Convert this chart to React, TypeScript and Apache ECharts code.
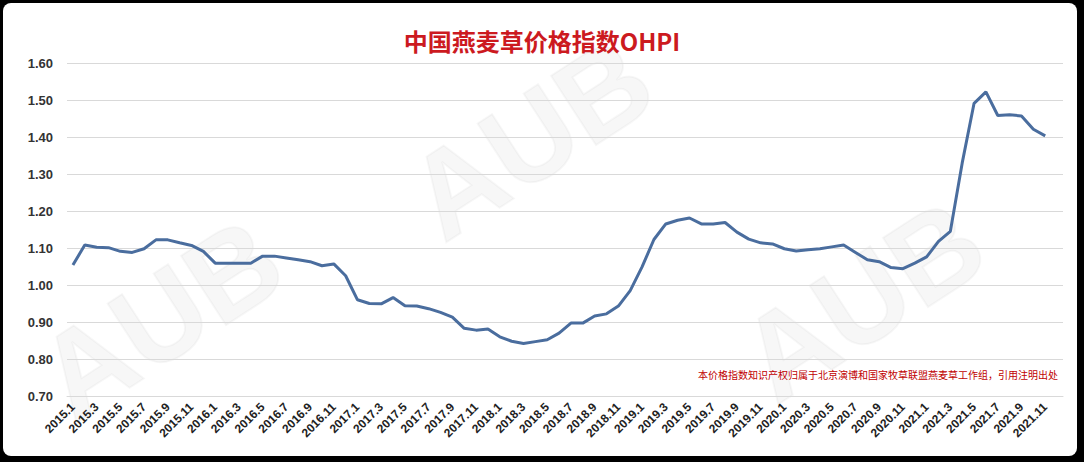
import React, { useEffect, useRef } from "react";
import * as echarts from "echarts";

const years = [2015, 2016, 2017, 2018, 2019, 2020, 2021];
const months = [1, 2, 3, 4, 5, 6, 7, 8, 9, 10, 11, 12];
const categories: string[] = [];
years.forEach((y) => months.forEach((m) => categories.push(`${y}.${m}`)));

const v2015 = [1.054, 1.108, 1.102, 1.101, 1.091, 1.088, 1.098, 1.122, 1.122, 1.114, 1.107, 1.091];
const v2016 = [1.059, 1.059, 1.059, 1.059, 1.078, 1.078, 1.073, 1.068, 1.063, 1.052, 1.057, 1.025];
const v2017 = [0.96, 0.95, 0.949, 0.966, 0.944, 0.943, 0.936, 0.926, 0.913, 0.883, 0.878, 0.881];
const v2018 = [0.86, 0.848, 0.842, 0.847, 0.852, 0.87, 0.897, 0.897, 0.916, 0.922, 0.943, 0.985];
const v2019 = [1.049, 1.123, 1.165, 1.175, 1.181, 1.165, 1.165, 1.169, 1.143, 1.124, 1.114, 1.111];
const v2020 = [1.098, 1.092, 1.095, 1.098, 1.103, 1.108, 1.088, 1.068, 1.063, 1.047, 1.044, 1.059];
const v2021 = [1.076, 1.118, 1.145, 1.33, 1.491, 1.522, 1.458, 1.46, 1.457, 1.421, 1.403, null];

const ohpi = [...v2015, ...v2016, ...v2017, ...v2018, ...v2019, ...v2020, ...v2021];

const titleText = "中国燕麦草价格指数OHPI";
const noteText = "本价格指数知识产权归属于北京演博和国家牧草联盟燕麦草工作组，引用注明出处";
const watermark = "AUB";

export default function App() {
  const ref = useRef<HTMLDivElement>(null);
  useEffect(() => {
    document.body.style.margin = "0";
    if (!ref.current) return;
    const chart = echarts.init(ref.current, null, { renderer: "svg" });
    const rot = (33 * Math.PI) / 180;
    const wm = (x: number, y: number) => ({
      type: "text",
      x,
      y,
      rotation: rot,
      z: -1,
      silent: true,
      style: {
        text: watermark,
        fontSize: 120,
        fontWeight: "bold",
        fontFamily: "Liberation Sans, Arial, sans-serif",
        fill: "rgba(0,0,0,0.03)",
        stroke: "rgba(0,0,0,0.03)",
        lineWidth: 2,
        textAlign: "center",
        textVerticalAlign: "middle",
      },
    });
    chart.setOption({
      animation: false,
      backgroundColor: "transparent",
      title: {
        text: titleText,
        left: "center",
        top: 23,
        textStyle: {
          color: "#cc1a1f",
          fontSize: 24,
          fontWeight: "bold",
          fontFamily: "Noto Sans CJK SC, sans-serif",
        },
      },
      grid: { left: 67, right: 21, top: 63, bottom: 66, containLabel: false },
      xAxis: {
        type: "category",
        data: categories,
        boundaryGap: true,
        axisLine: { show: true, lineStyle: { color: "#d9d9d9", width: 1 } },
        axisTick: { show: false },
        axisLabel: {
          interval: 1,
          rotate: 45,
          margin: 9,
          color: "#222",
          fontSize: 12,
          fontWeight: "bold",
          fontFamily: "Liberation Sans, Arial, sans-serif",
        },
      },
      yAxis: {
        type: "value",
        min: 0.7,
        max: 1.6,
        interval: 0.1,
        axisLine: { show: false },
        axisTick: { show: false },
        axisLabel: {
          formatter: (v: number) => v.toFixed(2),
          color: "#333",
          fontSize: 13,
          fontWeight: "bold",
          margin: 14,
          fontFamily: "Liberation Sans, Arial, sans-serif",
        },
        splitLine: { lineStyle: { color: "#d9d9d9", width: 1 } },
      },
      series: [
        {
          type: "line",
          data: ohpi,
          showSymbol: false,
          symbol: "none",
          lineStyle: { color: "#4a6d9e", width: 3 },
          z: 3,
        },
      ],
      graphic: [
        wm(160, 318),
        wm(530, 138),
        wm(862, 300),
        {
          type: "text",
          right: 26,
          top: 369,
          style: {
            text: noteText,
            fontSize: 10,
            fill: "#c00000",
            fontFamily: "Noto Sans CJK SC, sans-serif",
          },
        },
      ],
    });
    return () => chart.dispose();
  }, []);
  return (
    <div style={{ width: 1084, height: 462, background: "#000", position: "relative" }}>
      <div
        style={{
          position: "absolute",
          left: 3,
          top: 3,
          width: 1074,
          height: 453,
          background: "#fff",
          borderRadius: 8,
        }}
      />
      <div ref={ref} style={{ position: "absolute", left: 0, top: 0, width: 1084, height: 462 }} />
    </div>
  );
}
